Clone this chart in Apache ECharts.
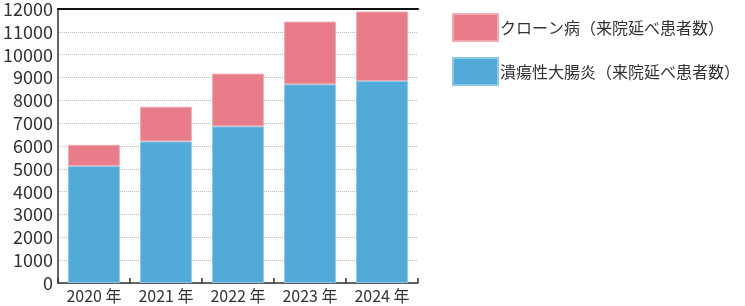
<!DOCTYPE html>
<html><head><meta charset="utf-8">
<script src="https://cdn.jsdelivr.net/npm/echarts@6/dist/echarts.min.js"></script>
<style>html,body{margin:0;padding:0;background:#fff}#c{width:745px;height:306px}</style>
</head><body><div id="c"></div>
<script>
const categories = ['2020 年','2021 年','2022 年','2023 年','2024 年'];
const ucValues = [5120, 6200, 6860, 8700, 8850];
const crohnValues = [930, 1520, 2310, 2750, 3040];
const seriesNames = ['クローン病（来院延べ患者数）','潰瘍性大腸炎（来院延べ患者数）'];
const yTicks = [0,1000,2000,3000,4000,5000,6000,7000,8000,9000,10000,11000,12000];

const font = '"Noto Sans CJK JP", "Noto Sans", sans-serif';
const chart = echarts.init(document.getElementById('c'), null, {renderer:'canvas'});
chart.setOption({
  animation:false,
  grid:{left:57, right:327, top:8.5, bottom:23, containLabel:false},
  legend:{
    left:447, top:8, orient:'vertical', itemWidth:45, itemHeight:27, itemGap:15,
    icon:'rect',
    data:[seriesNames[0], seriesNames[1]],
    textStyle:{fontFamily:font, fontSize:16, color:'#333', padding:[0,0,0,-3]}
  },
  xAxis:[{
    type:'category', data:categories, position:'bottom',
    axisLine:{lineStyle:{color:'#333', width:1.5}},
    axisTick:{show:true, inside:true, length:5, lineStyle:{color:'#333', width:1.5}},
    axisLabel:{fontFamily:font, fontSize:16, color:'#333', margin:5}
  },{
    type:'category', data:categories, position:'top',
    axisLine:{show:true, onZero:false, lineStyle:{color:'#111', width:2}},
    axisTick:{show:false}, axisLabel:{show:false}
  }],
  yAxis:{
    type:'value', min:yTicks[0], max:yTicks[yTicks.length-1], interval:1000,
    axisLine:{show:true, lineStyle:{color:'#333', width:1.5}},
    axisTick:{show:false},
    axisLabel:{fontFamily:font, fontSize:18, color:'#333', margin:5, formatter:v=>String(v)},
    splitLine:{lineStyle:{color:'#bbb', type:'dotted', width:1}}
  },
  series:[
    {name:seriesNames[1], type:'bar', stack:'a', data:ucValues, barWidth:'72%',
     itemStyle:{color:'#52AAD9', borderColor:'#8cc8e8', borderWidth:1}},
    {name:seriesNames[0], type:'bar', stack:'a', data:crohnValues, barWidth:'72%',
     itemStyle:{color:'#E97C89', borderColor:'#f2aab3', borderWidth:1}}
  ]
});
</script></body></html>
